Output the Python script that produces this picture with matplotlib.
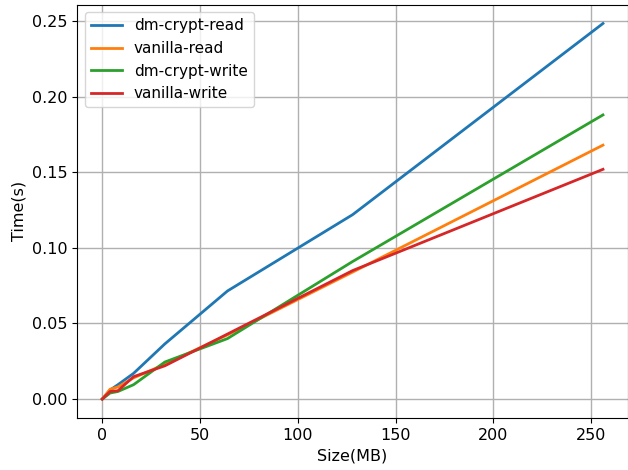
import matplotlib
matplotlib.use("Agg")
import matplotlib.pyplot as plt

sizes = [0, 4, 8, 16, 32, 64, 128, 256]
dm_crypt_read = [0.0, 0.006, 0.0095, 0.017, 0.0365, 0.0715, 0.122, 0.2485]
vanilla_read = [0.0, 0.0065, 0.008, 0.014, 0.023, 0.0425, 0.084, 0.168]
dm_crypt_write = [0.0, 0.004, 0.005, 0.0095, 0.0245, 0.040, 0.091, 0.188]
vanilla_write = [0.0, 0.005, 0.0055, 0.0148, 0.022, 0.043, 0.085, 0.152]

fig = plt.figure(figsize=(6.28, 4.70), dpi=100)
ax = fig.add_axes([0.123, 0.111, 0.877, 0.879])
ax.plot(sizes, dm_crypt_read, label="dm-crypt-read", lw=2)
ax.plot(sizes, vanilla_read, label="vanilla-read", lw=2)
ax.plot(sizes, dm_crypt_write, label="dm-crypt-write", lw=2)
ax.plot(sizes, vanilla_write, label="vanilla-write", lw=2)
ax.grid(True, color="#b0b0b0", lw=1)
ax.set_xlabel("Size(MB)", fontsize=11.5)
ax.set_ylabel("Time(s)", fontsize=11.5)
ax.set_yticks([0.0, 0.05, 0.10, 0.15, 0.20, 0.25])
ax.set_yticklabels(["0.00", "0.05", "0.10", "0.15", "0.20", "0.25"])
ax.tick_params(labelsize=11.5)
ax.legend(loc="upper left", fontsize=11)
fig.savefig("out.png", dpi=100)
